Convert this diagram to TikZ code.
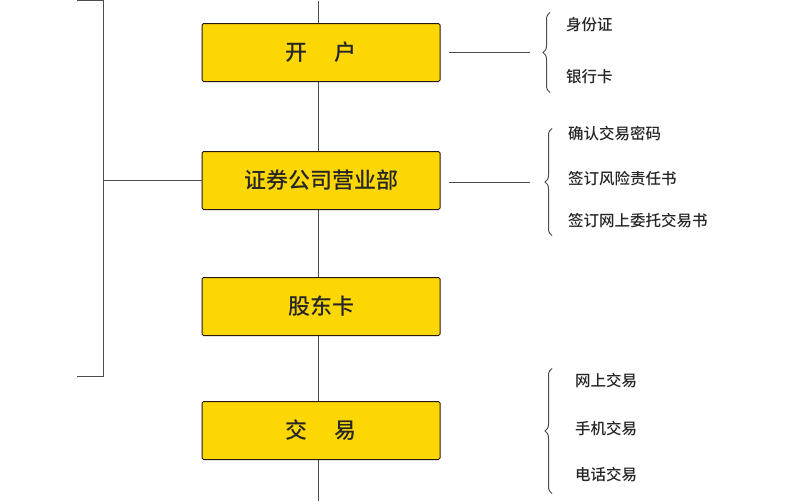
\documentclass[tikz,border=0pt]{standalone}
\usepackage{fontspec}
\newfontfamily\cjk{Noto Sans CJK SC}
\newfontfamily\cjkb{Noto Sans CJK SC Medium}
\usetikzlibrary{decorations.pathreplacing}
\begin{document}
\begin{tikzpicture}[x=1pt,y=-1pt,
  box/.style={draw=black!80!brown,line width=1pt,fill=yellow!75!orange,rounded corners=1.5pt,minimum width=238pt,minimum height=58pt,inner sep=0pt,font=\cjkb\fontsize{22}{24}\selectfont,text=black!85},
  ln/.style={draw=black!70,line width=1pt},
  br/.style={draw=black!70,line width=1pt,decorate,decoration={brace,amplitude=7pt}},
  it/.style={anchor=west,font=\cjkb\fontsize{15.5}{17}\selectfont,inner sep=0pt,text=black!85}]
\fill[white] (0,0) rectangle (800,500);
\coordinate (top) at (318,0);
\coordinate (bot) at (318,500);
\draw[ln] (top) -- (bot);
\node[box] (a) at (321,52) {开\hspace{1.2em}户};
\node[box] (b) at (321,180) {证券公司营业部};
\node[box] (c) at (321,306) {股东卡};
\node[box] (d) at (321,430) {交\hspace{1.2em}易};
% left bracket
\coordinate (lt) at (103,0);
\coordinate (lb) at (103,376);
\coordinate (lbt) at (77,376);
\coordinate (ltt) at (77,0);
\coordinate (lm) at (103,180);
\draw[ln] (ltt) -- (lt) -- (lb) -- (lbt);
\draw[ln] (lm) -- (b.west);
% right side
\coordinate (r1) at (530,52);
\coordinate (r2) at (530,182);
\draw[ln] ([xshift=8pt]a.east) -- (r1);
\draw[ln] ([xshift=8pt]b.east|-r2) -- (r2);
\coordinate (b1s) at (550,92); \coordinate (b1e) at (550,12);
\coordinate (b2s) at (552,235); \coordinate (b2e) at (552,128);
\coordinate (b4s) at (552,493); \coordinate (b4e) at (552,368);
\draw[br] (b1s) -- (b1e);
\draw[br] (b2s) -- (b2e);
\draw[br] (b4s) -- (b4e);
\node[it] (t1) at (566,24) {身份证};
\node[it] (t2) at (566,76) {银行卡};
\node[it] (t3) at (568,133) {确认交易密码};
\node[it] (t4) at (568,178) {签订风险责任书};
\node[it] (t5) at (568,220) {签订网上委托交易书};
\node[it] (t6) at (575,380) {网上交易};
\node[it] (t7) at (575,428) {手机交易};
\node[it] (t8) at (575,474) {电话交易};
\end{tikzpicture}
\end{document}
